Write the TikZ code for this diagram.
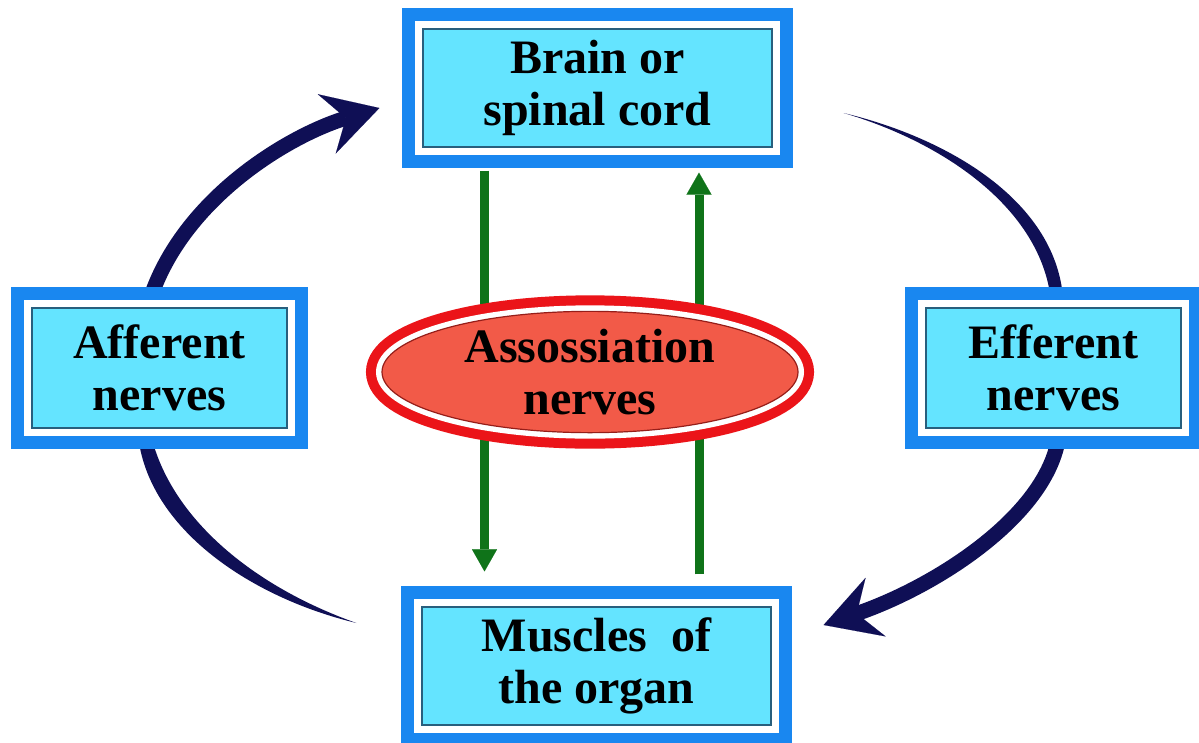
\documentclass[tikz,border=0pt]{standalone}
\usepackage{fontspec}
\setmainfont{Liberation Serif}
\usetikzlibrary{arrows.meta,shapes.geometric,backgrounds}
\definecolor{boxblue}{RGB}{25,135,240}
\definecolor{boxfill}{RGB}{100,228,255}
\definecolor{boxedge}{RGB}{40,95,125}
\definecolor{ringred}{RGB}{235,20,25}
\definecolor{assocfill}{RGB}{242,90,72}
\definecolor{assocedge}{RGB}{150,30,25}
\definecolor{loopnavy}{RGB}{15,15,85}
\definecolor{flowgreen}{RGB}{15,115,25}
\tikzset{
  partbox/.style={draw=boxedge,line width=1.2pt,fill=boxfill,inner sep=0pt,align=center,
    preaction={draw=boxblue,line width=42pt},
    preaction={draw=white,line width=16pt}},
  mainbox/.style={partbox,minimum width=349pt,minimum height=118pt},
  sidebox/.style={partbox,minimum width=255pt,minimum height=120pt},
  assoc/.style={ellipse,draw=assocedge,line width=1.2pt,fill=assocfill,inner sep=0pt,
    align=center,minimum width=416pt,minimum height=120pt,
    preaction={draw=ringred,line width=32pt},
    preaction={draw=white,line width=12pt}},
  reflex/.style={draw=loopnavy,line width=15pt,
    -{Stealth[length=55pt,width=62pt,inset=20pt,line width=.1pt]}},
  tail/.style={fill=loopnavy,draw=none},
  flow/.style={draw=flowgreen,line width=9pt,
    -{Triangle[length=22pt,width=25pt,line width=.1pt]}},
}
\begin{document}
\begin{tikzpicture}[x=1pt,y=-1pt,font=\fontsize{48}{52}\selectfont\bfseries]
  \useasboundingbox (0,0) rectangle (1199,742);
  % --- boxes
  \node[mainbox] (brain)  at (597.5,88)   {Brain or\\spinal cord};
  \node[mainbox] (muscle) at (596.5,666)  {Muscles\ \ of\\the organ};
  \node[sidebox] (aff)    at (159.5,368)  {Afferent\\nerves};
  \node[sidebox] (eff)    at (1053.5,368) {Efferent\\nerves};
  \node[assoc]   (assoc)  at (590,372)    {Assossiation\\nerves};
  % --- reflex loop, behind the boxes
  \begin{scope}[on background layer]
    \draw[reflex] ([xshift=-12pt]aff.north) .. controls (178,200) and (290,135)
      .. ([xshift=-43pt,yshift=-20pt]brain.west);
    \fill[tail] ([xshift=71pt,yshift=-25pt]brain.east) .. controls (952,139) and (1062,205)
      .. ([xshift=10pt]eff.north) -- ([xshift=-2pt]eff.north)
      .. controls (1046,212) and (946,143) .. ([xshift=71pt,yshift=-25pt]brain.east) -- cycle;
    \draw[reflex] ([xshift=6pt]eff.south) .. controls (1055,510) and (940,585)
      .. ([xshift=52pt,yshift=41pt]muscle.east);
    \fill[tail] ([xshift=-22pt]aff.south) .. controls (143,525) and (248,597)
      .. ([xshift=-65pt,yshift=43pt]muscle.west) .. controls (252,586) and (167,516)
      .. ([xshift=-10pt]aff.south) -- cycle;
    % --- association pathway
    \draw[flow,shorten <=23pt,shorten >=35pt] ([xshift=-113pt]brain.south) -- ([xshift=-112pt]muscle.north);
    \draw[flow,shorten <=32pt,shorten >=25pt] ([xshift=102.5pt]muscle.north) -- ([xshift=101.5pt]brain.south);
  \end{scope}
\end{tikzpicture}
\end{document}
